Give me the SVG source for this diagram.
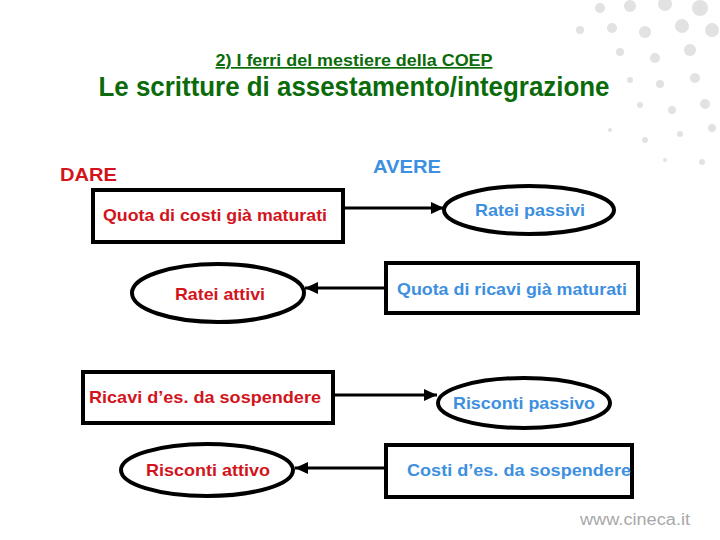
<svg xmlns="http://www.w3.org/2000/svg" width="720" height="540" viewBox="0 0 720 540">
<style>
.box{fill:#fff;stroke:#000;stroke-width:4}
.ell{fill:#fff;stroke:#000;stroke-width:4}
.t{font-family:"Liberation Sans",Arial,sans-serif;font-weight:bold;font-size:17px;text-anchor:middle}
.red{fill:#d2141c}
.blue{fill:#3d8fe0}
.conn{stroke:#000;stroke-width:3;fill:none;marker-end:url(#ah)}
.dot{fill:#e2e2e2}
</style>
<defs>
<marker id="ah" markerUnits="userSpaceOnUse" markerWidth="14" markerHeight="14" viewBox="0 0 14 14" refX="13" refY="7" orient="auto">
<path d="M0,1 L13,7 L0,13 Z" fill="#000"/>
</marker>
</defs>
<rect width="720" height="540" fill="#fff"/>
<g id="decor">
<circle class="dot" cx="600" cy="8" r="5"/><circle class="dot" cx="630" cy="6" r="6"/><circle class="dot" cx="665" cy="4" r="7"/><circle class="dot" cx="700" cy="8" r="8"/>
<circle class="dot" cx="580" cy="30" r="4"/><circle class="dot" cx="612" cy="28" r="5"/><circle class="dot" cx="645" cy="32" r="6"/><circle class="dot" cx="682" cy="26" r="7"/><circle class="dot" cx="712" cy="30" r="7"/>
<circle class="dot" cx="620" cy="52" r="4"/><circle class="dot" cx="655" cy="58" r="5"/><circle class="dot" cx="690" cy="50" r="6"/>
<circle class="dot" cx="630" cy="80" r="3"/><circle class="dot" cx="660" cy="84" r="4"/><circle class="dot" cx="695" cy="78" r="5"/>
<circle class="dot" cx="640" cy="105" r="3"/><circle class="dot" cx="672" cy="110" r="4"/><circle class="dot" cx="705" cy="104" r="5"/>
<circle class="dot" cx="610" cy="130" r="2"/><circle class="dot" cx="645" cy="140" r="3"/><circle class="dot" cx="680" cy="134" r="3"/><circle class="dot" cx="712" cy="128" r="4"/>
<circle class="dot" cx="665" cy="160" r="2"/><circle class="dot" cx="702" cy="162" r="3"/>
</g>
<text x="354" y="66" font-family="'Liberation Sans',Arial,sans-serif" font-weight="bold" font-size="17" fill="#0b6b0b" text-anchor="middle" text-decoration="underline" textLength="277" lengthAdjust="spacingAndGlyphs">2) I ferri del mestiere della COEP</text>
<text x="354" y="96" font-family="'Liberation Sans',Arial,sans-serif" font-weight="bold" font-size="28" fill="#0b6b0b" text-anchor="middle" textLength="511" lengthAdjust="spacingAndGlyphs">Le scritture di assestamento/integrazione</text>
<text x="60" y="181" font-family="'Liberation Sans',Arial,sans-serif" font-weight="bold" font-size="19" class="red" textLength="57" lengthAdjust="spacingAndGlyphs">DARE</text>
<text x="373" y="173" font-family="'Liberation Sans',Arial,sans-serif" font-weight="bold" font-size="19" class="blue" textLength="68" lengthAdjust="spacingAndGlyphs">AVERE</text>
<g id="connectors">
<line class="conn" x1="343" y1="208" x2="444" y2="208"/>
<line class="conn" x1="386" y1="288" x2="305" y2="288"/>
<line class="conn" x1="333" y1="395" x2="437" y2="395"/>
<line class="conn" x1="385" y1="468" x2="295" y2="468"/>
</g>
<g id="n1">
<rect class="box" x="93" y="190" width="250" height="52"/>
<text class="t red" x="215" y="221" textLength="224" lengthAdjust="spacingAndGlyphs">Quota di costi già maturati</text>
</g>
<g id="n2">
<ellipse class="ell" cx="529" cy="210" rx="85" ry="24"/>
<text class="t blue" x="530" y="216" textLength="110" lengthAdjust="spacingAndGlyphs">Ratei passivi</text>
</g>
<g id="n3">
<ellipse class="ell" cx="218" cy="293" rx="86" ry="29"/>
<text class="t red" x="220" y="300" textLength="90" lengthAdjust="spacingAndGlyphs">Ratei attivi</text>
</g>
<g id="n4">
<rect class="box" x="386" y="263" width="252" height="50"/>
<text class="t blue" x="512" y="295" textLength="230" lengthAdjust="spacingAndGlyphs">Quota di ricavi già maturati</text>
</g>
<g id="n5">
<rect class="box" x="83" y="372" width="250" height="51"/>
<text class="t red" x="205" y="403" textLength="232" lengthAdjust="spacingAndGlyphs">Ricavi d’es. da sospendere</text>
</g>
<g id="n6">
<ellipse class="ell" cx="524" cy="403" rx="86" ry="25"/>
<text class="t blue" x="524" y="409" textLength="142" lengthAdjust="spacingAndGlyphs">Risconti passivo</text>
</g>
<g id="n7">
<ellipse class="ell" cx="207" cy="470" rx="86" ry="26"/>
<text class="t red" x="208" y="476" textLength="124" lengthAdjust="spacingAndGlyphs">Risconti attivo</text>
</g>
<g id="n8">
<rect class="box" x="386" y="445" width="246" height="52"/>
<text class="t blue" x="519" y="476" textLength="224" lengthAdjust="spacingAndGlyphs">Costi d’es. da sospendere</text>
</g>
<text x="635" y="525" font-family="'Liberation Sans',Arial,sans-serif" font-size="16" fill="#a8a8a8" text-anchor="middle" textLength="110" lengthAdjust="spacingAndGlyphs">www.cineca.it</text>
</svg>
